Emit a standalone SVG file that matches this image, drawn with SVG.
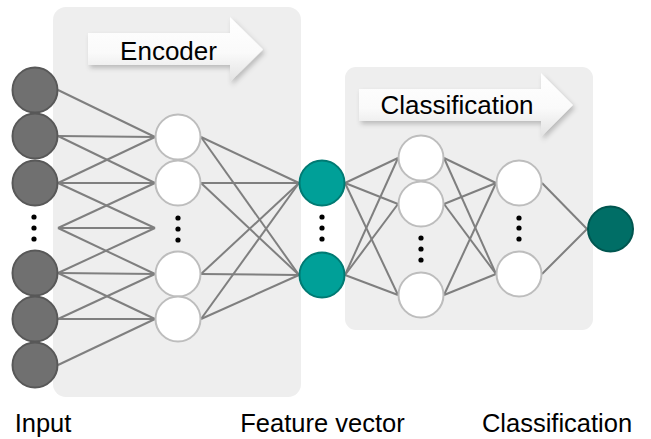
<svg xmlns="http://www.w3.org/2000/svg" width="651" height="439" viewBox="0 0 651 439">
<defs>
<linearGradient id="arrowGrad" x1="0" y1="0" x2="0" y2="1">
<stop offset="0" stop-color="#ffffff"/>
<stop offset="0.55" stop-color="#fafafa"/>
<stop offset="1" stop-color="#e2e2e2"/>
</linearGradient>
<filter id="shadow" x="-20%" y="-30%" width="140%" height="170%">
<feDropShadow dx="2" dy="3" stdDeviation="2.5" flood-color="#000000" flood-opacity="0.22"/>
</filter>
</defs>
<style>
.panel{fill:#eeeeee}
.arrow{fill:url(#arrowGrad);filter:url(#shadow)}
.lbl{font-family:"Liberation Sans",Arial,sans-serif;font-size:26px;fill:#000000;text-anchor:middle}
.bot{font-size:25.5px}
.edge{stroke:#7f7f7f;stroke-width:2;fill:none}
.in{fill:#707070;stroke:#585858;stroke-width:2}
.hid{fill:#ffffff;stroke:#bdbdbd;stroke-width:2}
.feat{fill:#00a098;stroke:#007a73;stroke-width:2}
.out{fill:#006e66;stroke:#00554f;stroke-width:2}
.dot{fill:#000000}
</style>
<g id="panels">
<rect class="panel" x="53" y="7" width="248" height="390" rx="13"/>
<rect class="panel" x="345" y="67" width="248" height="263" rx="11"/>
</g>
<g id="encoder-arrow">
<polygon class="arrow" points="88,33 230,33 230,17 263,49.5 230,82 230,65 88,65"/>
<text class="lbl" x="168.5" y="60">Encoder</text>
</g>
<g id="classification-arrow">
<polygon class="arrow" points="359,89 541,89 541,73 573,105 541,137 541,121 359,121"/>
<text class="lbl" x="457" y="114">Classification</text>
</g>
<g id="connectors">
<line class="edge" x1="58" y1="90" x2="155" y2="137"/>
<line class="edge" x1="58" y1="136" x2="155" y2="137"/>
<line class="edge" x1="58" y1="136" x2="155" y2="183"/>
<line class="edge" x1="58" y1="183" x2="155" y2="137"/>
<line class="edge" x1="58" y1="183" x2="155" y2="183"/>
<line class="edge" x1="58" y1="183" x2="155" y2="228"/>
<line class="edge" x1="58" y1="228" x2="155" y2="183"/>
<line class="edge" x1="58" y1="228" x2="155" y2="228"/>
<line class="edge" x1="58" y1="228" x2="155" y2="274"/>
<line class="edge" x1="58" y1="273" x2="155" y2="228"/>
<line class="edge" x1="58" y1="273" x2="155" y2="274"/>
<line class="edge" x1="58" y1="273" x2="155" y2="319"/>
<line class="edge" x1="58" y1="319" x2="155" y2="274"/>
<line class="edge" x1="58" y1="319" x2="155" y2="319"/>
<line class="edge" x1="58" y1="365" x2="155" y2="319"/>
<line class="edge" x1="201" y1="137" x2="299" y2="183"/>
<line class="edge" x1="201" y1="137" x2="299" y2="275"/>
<line class="edge" x1="201" y1="183" x2="299" y2="183"/>
<line class="edge" x1="201" y1="183" x2="299" y2="275"/>
<line class="edge" x1="201" y1="274" x2="299" y2="183"/>
<line class="edge" x1="201" y1="274" x2="299" y2="275"/>
<line class="edge" x1="201" y1="319" x2="299" y2="183"/>
<line class="edge" x1="201" y1="319" x2="299" y2="275"/>
<line class="edge" x1="345" y1="183" x2="398" y2="158"/>
<line class="edge" x1="345" y1="183" x2="398" y2="204"/>
<line class="edge" x1="345" y1="183" x2="398" y2="295"/>
<line class="edge" x1="345" y1="275" x2="398" y2="158"/>
<line class="edge" x1="345" y1="275" x2="398" y2="204"/>
<line class="edge" x1="345" y1="275" x2="398" y2="295"/>
<line class="edge" x1="444" y1="158" x2="496" y2="183"/>
<line class="edge" x1="444" y1="158" x2="496" y2="274"/>
<line class="edge" x1="444" y1="204" x2="496" y2="183"/>
<line class="edge" x1="444" y1="204" x2="496" y2="274"/>
<line class="edge" x1="444" y1="295" x2="496" y2="183"/>
<line class="edge" x1="444" y1="295" x2="496" y2="274"/>
<line class="edge" x1="542" y1="183" x2="587" y2="229"/>
<line class="edge" x1="542" y1="274" x2="587" y2="229"/>
</g>
<g id="input-layer">
<circle class="in" cx="35" cy="90" r="22.5"/>
<circle class="in" cx="35" cy="136" r="22.5"/>
<circle class="in" cx="35" cy="183" r="22.5"/>
<circle class="in" cx="35" cy="273" r="22.5"/>
<circle class="in" cx="35" cy="319" r="22.5"/>
<circle class="in" cx="35" cy="365" r="22.5"/>
<circle class="dot" cx="34" cy="217" r="2.6"/>
<circle class="dot" cx="34" cy="228" r="2.6"/>
<circle class="dot" cx="34" cy="239" r="2.6"/>
</g>
<g id="encoder-hidden-layer">
<circle class="hid" cx="178" cy="137" r="22.5"/>
<circle class="hid" cx="178" cy="183" r="22.5"/>
<circle class="hid" cx="178" cy="274" r="22.5"/>
<circle class="hid" cx="178" cy="319" r="22.5"/>
<circle class="dot" cx="178" cy="218" r="2.6"/>
<circle class="dot" cx="178" cy="229" r="2.6"/>
<circle class="dot" cx="178" cy="240" r="2.6"/>
</g>
<g id="feature-layer">
<circle class="feat" cx="322" cy="183" r="22.5"/>
<circle class="feat" cx="322" cy="275" r="22.5"/>
<circle class="dot" cx="322" cy="217" r="2.6"/>
<circle class="dot" cx="322" cy="228" r="2.6"/>
<circle class="dot" cx="322" cy="239" r="2.6"/>
</g>
<g id="class-layer-1">
<circle class="hid" cx="421" cy="158" r="22.5"/>
<circle class="hid" cx="421" cy="204" r="22.5"/>
<circle class="hid" cx="421" cy="295" r="22.5"/>
<circle class="dot" cx="421" cy="238" r="2.6"/>
<circle class="dot" cx="421" cy="249" r="2.6"/>
<circle class="dot" cx="421" cy="260" r="2.6"/>
</g>
<g id="class-layer-2">
<circle class="hid" cx="519" cy="183" r="22.5"/>
<circle class="hid" cx="519" cy="274" r="22.5"/>
<circle class="dot" cx="519" cy="218" r="2.6"/>
<circle class="dot" cx="519" cy="228" r="2.6"/>
<circle class="dot" cx="519" cy="239" r="2.6"/>
</g>
<g id="output-node">
<circle class="out" cx="610.5" cy="229" r="22.5"/>
</g>
<g id="labels">
<text class="lbl bot" x="43" y="432">Input</text>
<text class="lbl bot" x="322.5" y="432">Feature vector</text>
<text class="lbl bot" x="557" y="432">Classification</text>
</g>
</svg>
